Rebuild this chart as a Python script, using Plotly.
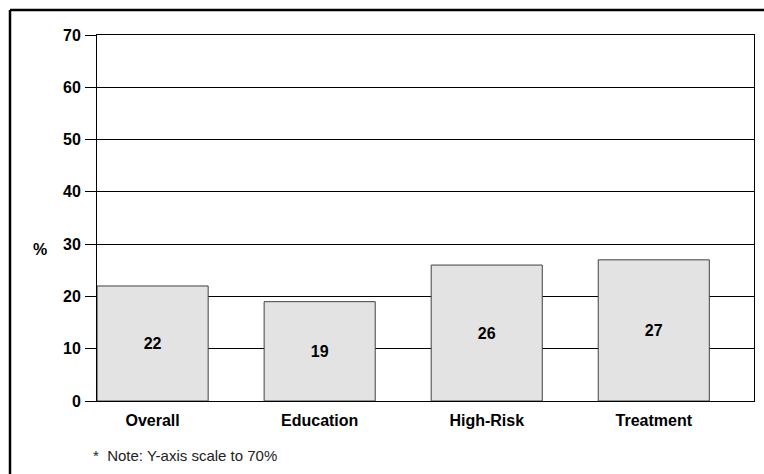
import plotly.graph_objects as go

# Share of respondents by program type (percent)
categories = ["Overall", "Education", "High-Risk", "Treatment"]
values = [22, 19, 26, 27]
y_ticks = [0, 10, 20, 30, 40, 50, 60, 70]
note_text = "*  Note: Y-axis scale to 70%"

W, H = 764, 474
ML, MR, MT, MB = 97, 10, 35, 73
FONT = "Liberation Sans, Arial, sans-serif"

fig = go.Figure()
fig.add_trace(
    go.Bar(
        x=categories,
        y=values,
        text=[str(v) for v in values],
        textposition="inside",
        insidetextanchor="middle",
        textfont=dict(family=FONT, size=16, color="black", weight="bold"),
        marker=dict(color="#e3e3e3", line=dict(color="#404040", width=1)),
        cliponaxis=False,
    )
)

pw = W - ML - MR
ph = H - MT - MB

fig.update_layout(
    width=W,
    height=H,
    margin=dict(l=ML, r=MR, t=MT, b=MB),
    paper_bgcolor="white",
    plot_bgcolor="white",
    bargap=0.335,
    showlegend=False,
    font=dict(family=FONT, color="black"),
    xaxis=dict(
        type="category",
        range=[-0.333, 3.6],
        showline=True,
        linecolor="black",
        linewidth=1,
        mirror=True,
        ticks="",
        showgrid=False,
        ticklabelstandoff=5,
        tickfont=dict(family=FONT, size=16, color="black", weight="bold"),
    ),
    yaxis=dict(
        range=[0, 70],
        tickmode="array",
        tickvals=y_ticks,
        showline=True,
        linecolor="black",
        linewidth=1,
        mirror=True,
        showgrid=True,
        gridcolor="black",
        gridwidth=1,
        zeroline=False,
        ticks="outside",
        ticklen=11,
        tickcolor="black",
        tickwidth=1,
        ticklabelstandoff=1,
        tickfont=dict(family=FONT, size=16, color="black", weight="bold"),
    ),
    annotations=[
        dict(text="%", xref="paper", yref="paper",
             x=(40 - ML) / pw, y=(H - MB - 249) / ph,
             xanchor="center", yanchor="middle",
             showarrow=False, font=dict(family=FONT, size=16, weight="bold")),
        dict(text=note_text, xref="paper", yref="paper",
             x=(91 - ML) / pw, y=(H - MB - 455) / ph,
             xanchor="left", yanchor="middle", showarrow=False,
             font=dict(family=FONT, size=15, color="#222")),
    ],
    shapes=[
        # outer frame (left and top edges fall inside the canvas)
        dict(type="line", xref="paper", yref="paper",
             x0=(10 - ML) / pw, x1=(10 - ML) / pw, y0=(H - MB - 480) / ph, y1=(H - MB - 10) / ph,
             line=dict(color="black", width=2.5)),
        dict(type="line", xref="paper", yref="paper",
             x0=(10 - ML) / pw, x1=(770 - ML) / pw, y0=(H - MB - 10) / ph, y1=(H - MB - 10) / ph,
             line=dict(color="black", width=2.5)),
    ],
)

fig.write_html("out.html")
